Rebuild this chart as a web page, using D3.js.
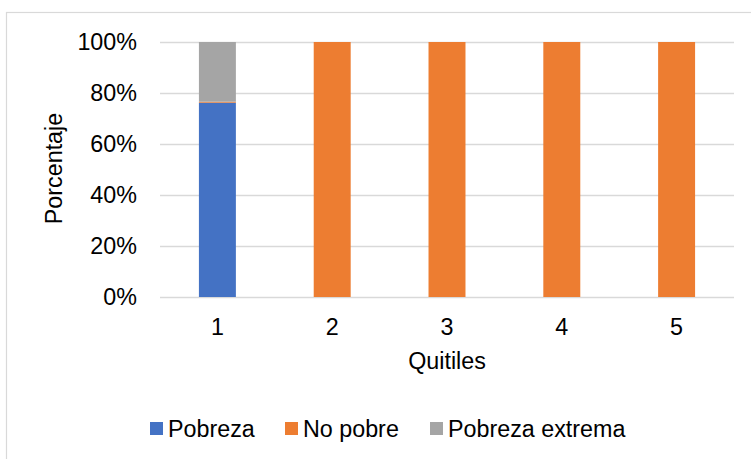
<!DOCTYPE html>
<html>
<head>
<meta charset="utf-8">
<script src="https://cdn.jsdelivr.net/npm/d3@7"></script>
<style>
  html, body { margin: 0; padding: 0; background: #fff; }
  svg { display: block; font-family: "Liberation Sans", Arial, sans-serif; }
</style>
</head>
<body>
<svg id="chart" width="751" height="459"></svg>
<script>
// Poverty status by income quintile (share of households, %)
const quintiles = ["1", "2", "3", "4", "5"];
const seriesNames = ["Pobreza", "No pobre", "Pobreza extrema"];
const pobreza = [76.2, 0, 0, 0, 0];
const noPobre = [0.4, 100, 100, 100, 100];
const pobrezaExtrema = [23.4, 0, 0, 0, 0];
const yTicks = [0, 20, 40, 60, 80, 100];
const colors = ["#4472c4", "#ed7d31", "#a5a5a5"];

const rows = quintiles.map((q, i) => ({
  q,
  "Pobreza": pobreza[i],
  "No pobre": noPobre[i],
  "Pobreza extrema": pobrezaExtrema[i]
}));

const svg = d3.select("#chart");
const fontSize = 23.3;

// chart frame
svg.append("rect")
  .attr("x", 6.5).attr("y", 12.5)
  .attr("width", 900).attr("height", 600)
  .attr("fill", "none").attr("stroke", "#d9d9d9").attr("stroke-width", 1.2);

const x = d3.scaleBand().domain(quintiles).range([160, 734])
  .paddingInner(0.678).paddingOuter(0.339);
const y = d3.scaleLinear().domain([0, 100]).range([297, 42]);

// gridlines
svg.append("g").selectAll("line").data(yTicks).join("line")
  .attr("x1", 160).attr("x2", 734)
  .attr("y1", d => Math.round(y(d)) + 0.5).attr("y2", d => Math.round(y(d)) + 0.5)
  .attr("stroke", "#d9d9d9").attr("stroke-width", 1.3);

// stacked bars
const stack = d3.stack().keys(seriesNames)(rows);
svg.append("g").selectAll("g").data(stack).join("g")
  .attr("fill", (d, i) => colors[i])
  .selectAll("rect").data(d => d).join("rect")
  .attr("x", d => x(d.data.q))
  .attr("width", x.bandwidth())
  .attr("y", d => y(d[1]))
  .attr("height", d => y(d[0]) - y(d[1]));

// y axis
const yAxis = svg.append("g").attr("transform", "translate(137,0)")
  .call(d3.axisLeft(y).tickValues(yTicks).tickFormat(d => d + "%").tickSize(0).tickPadding(0));
yAxis.select(".domain").remove();
yAxis.selectAll("text")
  .attr("font-size", fontSize).attr("fill", "#000")
  .attr("font-family", "Liberation Sans, Arial, sans-serif");

// x axis
const xAxis = svg.append("g").attr("transform", "translate(0,297)")
  .call(d3.axisBottom(x).tickSize(0).tickPadding(21));
xAxis.select(".domain").remove();
xAxis.selectAll("text")
  .attr("font-size", fontSize).attr("fill", "#000")
  .attr("font-family", "Liberation Sans, Arial, sans-serif");

// axis titles
svg.append("text")
  .attr("x", 447).attr("y", 369)
  .attr("text-anchor", "middle")
  .attr("font-size", fontSize)
  .text("Quitiles");

svg.append("text")
  .attr("transform", "translate(62,168.5) rotate(-90)")
  .attr("text-anchor", "middle")
  .attr("font-size", fontSize)
  .text("Porcentaje");

// legend
const legendX = [150, 285, 430];
const legend = svg.append("g").selectAll("g").data(seriesNames).join("g")
  .attr("transform", (d, i) => `translate(${legendX[i]},0)`);
legend.append("rect")
  .attr("x", 0).attr("y", 422).attr("width", 13).attr("height", 13)
  .attr("fill", (d, i) => colors[i]);
legend.append("text")
  .attr("x", 18).attr("y", 437)
  .attr("font-size", fontSize)
  .text(d => d);
</script>
</body>
</html>
